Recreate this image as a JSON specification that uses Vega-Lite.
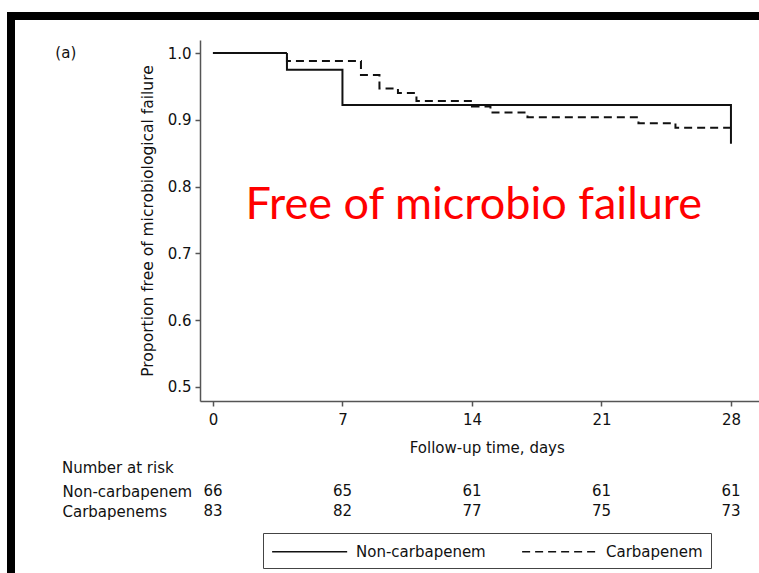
{
  "$schema": "https://vega.github.io/schema/vega-lite/v6.json",
  "background": "white",
  "padding": {"left": 7, "top": 12, "right": 0, "bottom": 0},
  "datasets": {
    "km": [
      {"group": "Non-carbapenem", "day": 0, "surv": 1.0},
      {"group": "Non-carbapenem", "day": 4, "surv": 0.975},
      {"group": "Non-carbapenem", "day": 7, "surv": 0.922},
      {"group": "Non-carbapenem", "day": 28, "surv": 0.864},
      {"group": "Carbapenem", "day": 0, "surv": 1.0},
      {"group": "Carbapenem", "day": 4, "surv": 0.988},
      {"group": "Carbapenem", "day": 8, "surv": 0.967},
      {"group": "Carbapenem", "day": 9, "surv": 0.947},
      {"group": "Carbapenem", "day": 10, "surv": 0.94},
      {"group": "Carbapenem", "day": 11, "surv": 0.928},
      {"group": "Carbapenem", "day": 14, "surv": 0.92},
      {"group": "Carbapenem", "day": 15, "surv": 0.911},
      {"group": "Carbapenem", "day": 17, "surv": 0.904},
      {"group": "Carbapenem", "day": 23, "surv": 0.895},
      {"group": "Carbapenem", "day": 25, "surv": 0.888},
      {"group": "Carbapenem", "day": 28, "surv": 0.888}
    ],
    "note": [
      {"day": 14.1, "surv": 0.7725, "label": "Free of microbio failure"}
    ],
    "risk": [
      {"group": "Non-carbapenem", "day": 0, "n": 66},
      {"group": "Non-carbapenem", "day": 7, "n": 65},
      {"group": "Non-carbapenem", "day": 14, "n": 61},
      {"group": "Non-carbapenem", "day": 21, "n": 61},
      {"group": "Non-carbapenem", "day": 28, "n": 61},
      {"group": "Carbapenems", "day": 0, "n": 83},
      {"group": "Carbapenems", "day": 7, "n": 82},
      {"group": "Carbapenems", "day": 14, "n": 77},
      {"group": "Carbapenems", "day": 21, "n": 75},
      {"group": "Carbapenems", "day": 28, "n": 73}
    ]
  },
  "columns": 2,
  "align": "none",
  "spacing": -760,
  "concat": [
    {
      "width": 800,
      "height": 620,
      "data": {"values": []},
      "mark": {"type": "point", "opacity": 0},
      "view": {"stroke": "black", "strokeWidth": 8, "fill": "white"}
    },
    {
      "spacing": 4,
      "vconcat": [
        {
          "width": 1,
          "height": 20,
          "data": {"values": []},
          "mark": {"type": "point", "opacity": 0}
        },
        {
          "bounds": "flush",
          "spacing": 80,
          "resolve": {"legend": {"strokeDash": "independent"}},
          "vconcat": [
            {
              "width": 573.5,
              "height": 361,
              "title": {
                "text": "(a)",
                "orient": "left",
                "angle": 0,
                "anchor": "end",
                "frame": "group",
                "align": "right",
                "baseline": "top",
                "offset": 43,
                "dy": 6,
                "fontSize": 15
              },
              "layer": [
                {
                  "data": {"name": "km"},
                  "mark": {"type": "line", "interpolate": "step-after", "strokeWidth": 2, "color": "#111"},
                  "encoding": {
                    "x": {
                      "field": "day",
                      "type": "quantitative",
                      "scale": {"domain": [-0.7, 30.3], "nice": false, "zero": false},
                      "axis": {
                        "title": "Follow-up time, days",
                        "values": [0, 7, 14, 21, 28],
                        "format": "d",
                        "tickSize": 5,
                        "labelPadding": 6,
                        "titlePadding": 13
                      }
                    },
                    "y": {
                      "field": "surv",
                      "type": "quantitative",
                      "scale": {"domain": [0.479, 1.0195], "nice": false, "zero": false},
                      "axis": {
                        "title": "Proportion free of microbiological failure",
                        "titleFontSize": 15.5,
                        "values": [0.5, 0.6, 0.7, 0.8, 0.9, 1.0],
                        "format": ".1f",
                        "tickSize": 5,
                        "labelPadding": 4,
                        "titlePadding": 12
                      }
                    },
                    "strokeDash": {
                      "field": "group",
                      "type": "nominal",
                      "scale": {"domain": ["Non-carbapenem", "Carbapenem"], "range": [[1, 0], [8, 5]]},
                      "legend": {
                        "title": null,
                        "orient": "bottom",
                        "direction": "horizontal",
                        "symbolType": "M-1,0H7",
                        "symbolSize": 352,
                        "symbolStrokeWidth": 1.5,
                        "symbolStrokeColor": "#111",
                        "strokeColor": "#444",
                        "fillColor": "white",
                        "padding": 8,
                        "offset": 78,
                        "columnPadding": 33,
                        "labelOffset": 64,
                        "labelFontSize": 15,
                        "labelFont": "DejaVu Sans",
                        "labelColor": "#111"
                      }
                    }
                  }
                },
                {
                  "data": {"name": "note"},
                  "mark": {"type": "text", "color": "#ff0000", "fontSize": 45, "font": "Lato"},
                  "encoding": {
                    "x": {"field": "day", "type": "quantitative"},
                    "y": {"field": "surv", "type": "quantitative"},
                    "text": {"field": "label"}
                  }
                }
              ]
            },
            {
              "width": 573.5,
              "height": 40,
              "data": {"name": "risk"},
              "title": {"text": "Number at risk", "anchor": "start", "frame": "bounds", "offset": 5, "fontSize": 15},
              "mark": {"type": "text", "fontSize": 15, "font": "DejaVu Sans", "color": "#111"},
              "encoding": {
                "x": {
                  "field": "day",
                  "type": "quantitative",
                  "scale": {"domain": [-0.7, 30.3], "nice": false, "zero": false},
                  "axis": null
                },
                "y": {
                  "field": "group",
                  "type": "nominal",
                  "sort": ["Non-carbapenem", "Carbapenems"],
                  "axis": {
                    "title": null,
                    "domain": false,
                    "ticks": false,
                    "tickSize": 0,
                    "labelAlign": "left",
                    "labelPadding": 138,
                    "labelFontSize": 15
                  }
                },
                "text": {"field": "n"}
              }
            }
          ]
        }
      ]
    }
  ],
  "config": {
    "view": {"stroke": null},
    "font": "DejaVu Sans",
    "axis": {
      "labelFont": "DejaVu Sans",
      "titleFont": "DejaVu Sans",
      "labelFontSize": 15,
      "titleFontSize": 15,
      "titleFontWeight": "normal",
      "labelColor": "#111",
      "titleColor": "#111",
      "domainColor": "#555",
      "tickColor": "#555",
      "domainWidth": 1.5,
      "tickWidth": 1.5,
      "grid": false
    },
    "title": {"font": "DejaVu Sans", "fontSize": 15, "fontWeight": "normal", "color": "#111"},
    "legend": {"layout": {"bottom": {"anchor": "middle"}}}
  }
}
